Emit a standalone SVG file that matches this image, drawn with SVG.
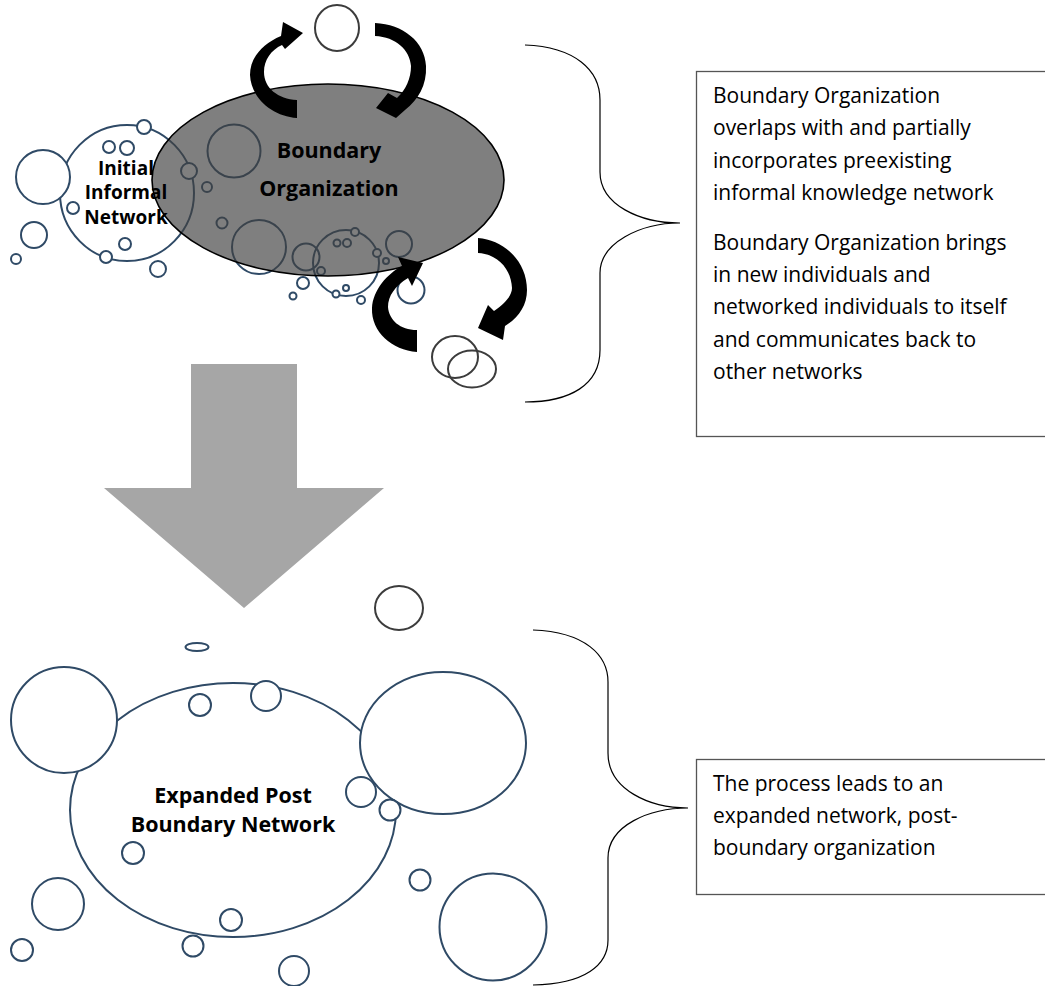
<svg xmlns="http://www.w3.org/2000/svg" width="1045" height="986" viewBox="0 0 1045 986">
<style>
.n{fill:#fff;stroke:#2f4a66;stroke-width:2}
.nt{fill:none;stroke:#2f4a66;stroke-width:2}
.g{fill:none;stroke:#3c3c3c;stroke-width:2}
.br{fill:none;stroke:#000;stroke-width:1.2}
.box{fill:#fff;stroke:#555;stroke-width:1.3}
.tx{font-family:"Open Sans","Liberation Sans",sans-serif;font-size:21px;fill:#000}
.bt{font-family:"Open Sans","Liberation Sans",sans-serif;font-weight:bold;fill:#000;text-anchor:middle}
.ca{fill:#000}
</style>
<rect width="1045" height="986" fill="#fff"/>

<g id="initial-network">
  <ellipse class="nt" cx="127" cy="193" rx="67" ry="68"/>
  <circle class="n" cx="43" cy="177" r="27"/>
  <circle class="n" cx="144" cy="127" r="7"/>
  <circle class="n" cx="109" cy="147" r="6"/>
  <circle class="n" cx="127" cy="148" r="7"/>
  <circle class="n" cx="189" cy="171" r="8"/>
  <circle class="n" cx="207" cy="187" r="5"/>
  <circle class="n" cx="73" cy="208" r="6"/>
  <circle class="n" cx="34" cy="235" r="13"/>
  <circle class="n" cx="125" cy="244" r="6"/>
  <circle class="n" cx="106" cy="257" r="6"/>
  <circle class="n" cx="16" cy="259" r="5"/>
  <circle class="n" cx="158" cy="269" r="8"/>
  <circle class="n" cx="222" cy="223" r="5.5"/>
  <circle class="n" cx="234" cy="151" r="26.5"/>
  <circle class="n" cx="259" cy="247" r="27"/>
  <circle class="n" cx="306" cy="257" r="13.5"/>
  <circle class="nt" cx="346" cy="263" r="33"/>
  <circle class="n" cx="355" cy="232" r="4"/>
  <circle class="n" cx="337" cy="243" r="3.5"/>
  <circle class="n" cx="347" cy="243" r="4"/>
  <circle class="n" cx="377" cy="253" r="4"/>
  <circle class="n" cx="386" cy="261" r="3"/>
  <circle class="n" cx="321" cy="271" r="4"/>
  <circle class="n" cx="346" cy="288" r="3"/>
  <circle class="n" cx="336" cy="294" r="3.5"/>
  <circle class="n" cx="361" cy="300" r="4"/>
  <circle class="n" cx="303" cy="283" r="6"/>
  <circle class="n" cx="293" cy="296" r="3.5"/>
  <circle class="n" cx="399" cy="244" r="13"/>
  <circle class="n" cx="411" cy="290" r="13.5"/>
</g>

<g id="boundary-organization">
  <ellipse cx="328" cy="180" rx="176" ry="96" fill="#404040" fill-opacity="0.67" stroke="#000" stroke-width="1.6"/>
  <text class="bt" x="329" y="158" font-size="21.5">Boundary</text>
  <text class="bt" x="329" y="196" font-size="21.5">Organization</text>
</g>

<g id="initial-label">
  <text class="bt" x="126" y="175" font-size="19">Initial</text>
  <text class="bt" x="126" y="199" font-size="19">Informal</text>
  <text class="bt" x="126" y="224" font-size="19">Network</text>
</g>

<g id="top-individual">
  <ellipse class="g" cx="337" cy="28" rx="22" ry="23"/>
</g>

<g id="new-individuals">
  <ellipse class="g" cx="455" cy="357" rx="23" ry="21"/>
  <ellipse class="g" cx="472" cy="369" rx="24" ry="18.5"/>
</g>

<g id="connectors">
  <path class="ca" d="M297,118 C272,116 251,98 250,75 C250,58 262,44 281,36 L283,22 L303,33 L285,49 L282,45 C271,50 264,60 264,72 C264,88 278,99 297,100 Z"/>
  <path class="ca" d="M375,23 C403,24 425,42 426,66 C427,85 418,100 405,110 L396,118 L376,108 L388,93 L397,98 C406,90 411,78 411,66 C410,50 396,37 375,36 Z"/>
  <path class="ca" d="M417,352 C392,350 371,332 372,308 C373,290 387,274 402,266 L398,257 L423,263 L412,286 L408,278 C395,286 388,296 388,307 C389,320 400,330 417,330 Z"/>
  <path class="ca" d="M478,238 C505,240 527,262 527,290 C527,306 518,318 505,326 L503,340 L478,328 L488,305 L494,311 C506,303 512,295 512,288 C511,268 497,254 478,253 Z"/>
</g>

<g id="process-arrow">
  <polygon points="191,364 297,364 297,488 384,488 244,608 104,488 191,488" fill="#a6a6a6"/>
</g>

<g id="brace-1">
  <path class="br" d="M525,45 C575,47 600,70 600,100 L600,172 C600,205 640,223 680,223 C640,223 600,243 600,273 L600,350 C600,385 570,402 525,402"/>
</g>

<g id="note-1">
  <rect class="box" x="696.5" y="71.5" width="360" height="365"/>
  <text class="tx" x="713" y="103">Boundary Organization</text>
  <text class="tx" x="713" y="135">overlaps with and partially</text>
  <text class="tx" x="713" y="168">incorporates preexisting</text>
  <text class="tx" x="713" y="200">informal knowledge network</text>
  <text class="tx" x="713" y="250">Boundary Organization brings</text>
  <text class="tx" x="713" y="282">in new individuals and</text>
  <text class="tx" x="713" y="314">networked individuals to itself</text>
  <text class="tx" x="713" y="347">and communicates back to</text>
  <text class="tx" x="713" y="379">other networks</text>
</g>

<g id="expanded-network">
  <ellipse class="n" cx="233" cy="810" rx="163" ry="127"/>
  <circle class="n" cx="64" cy="720" r="53"/>
  <ellipse class="n" cx="443" cy="743" rx="83" ry="71"/>
  <circle class="n" cx="200" cy="705" r="11"/>
  <circle class="n" cx="266" cy="696" r="15"/>
  <circle class="n" cx="361" cy="792" r="15"/>
  <circle class="n" cx="390" cy="810" r="10.5"/>
  <circle class="n" cx="133" cy="853" r="11"/>
  <circle class="n" cx="420" cy="880" r="10.5"/>
  <circle class="n" cx="493" cy="927" r="53.5"/>
  <circle class="n" cx="58" cy="904" r="26"/>
  <circle class="n" cx="231" cy="920" r="11"/>
  <circle class="n" cx="193" cy="946" r="10.5"/>
  <circle class="n" cx="22" cy="950" r="11"/>
  <circle class="n" cx="294" cy="971" r="15"/>
  <ellipse class="n" cx="197" cy="647" rx="11.5" ry="4"/>
  <ellipse class="g" cx="399" cy="608" rx="24" ry="22"/>
  <text class="bt" x="233" y="803" font-size="21.5">Expanded Post</text>
  <text class="bt" x="233" y="832" font-size="21.5">Boundary Network</text>
</g>

<g id="brace-2">
  <path class="br" d="M533,630 C585,632 608,655 608,682 L608,753 C608,790 650,808 688,808 C650,808 608,825 608,858 L608,940 C608,965 585,984 533,985"/>
</g>

<g id="note-2">
  <rect class="box" x="696.5" y="759.5" width="360" height="135"/>
  <text class="tx" x="713" y="791">The process leads to an</text>
  <text class="tx" x="713" y="823">expanded network, post-</text>
  <text class="tx" x="713" y="855">boundary organization</text>
</g>
</svg>
